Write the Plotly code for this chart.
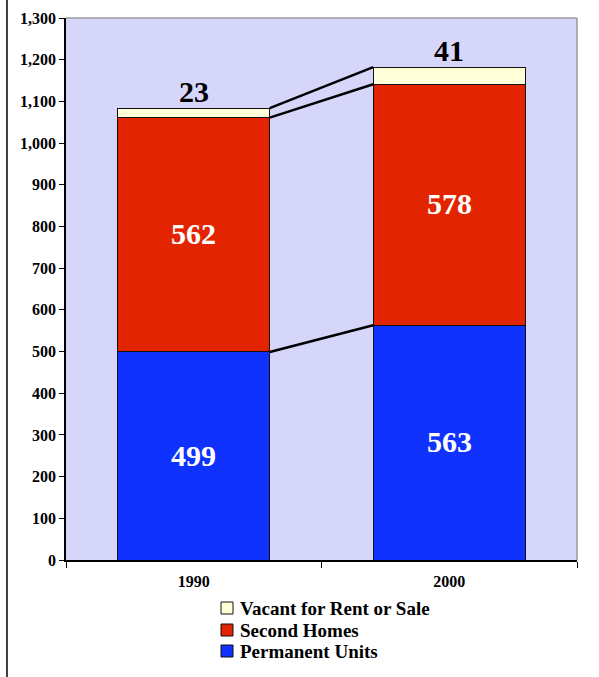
import plotly.graph_objects as go

years = ["1990", "2000"]
permanent = [499, 563]
second_homes = [562, 578]
vacant = [23, 41]
series_names = ["Permanent Units", "Second Homes", "Vacant for Rent or Sale"]
colors = ["#0F32FF", "#E32400", "#FFFFD8"]
y_ticks = list(range(0, 1301, 100))

xpos = list(range(len(years)))
bw = 0.595
font_family = "Liberation Serif, Times New Roman, serif"

fig = go.Figure()
stack = [permanent, second_homes, vacant]
for name, vals, col in zip(series_names, stack, colors):
    fig.add_trace(go.Bar(
        x=xpos, y=vals, name=name, width=bw, showlegend=False,
        marker=dict(color=col, line=dict(color="#111111", width=1)),
    ))

cum1 = permanent
cum2 = [a + b for a, b in zip(permanent, second_homes)]
cum3 = [a + b for a, b in zip(cum2, vacant)]
for lvl in [cum1, cum2, cum3]:
    fig.add_trace(go.Scatter(
        x=[xpos[0] + bw / 2, xpos[1] - bw / 2], y=lvl, mode="lines",
        line=dict(color="black", width=2.5), showlegend=False, hoverinfo="skip",
    ))

for i in xpos:
    fig.add_annotation(x=i, y=permanent[i] / 2 + 2, text=f"<b>{permanent[i]}</b>",
                       showarrow=False, font=dict(family=font_family, size=30, color="white"))
    fig.add_annotation(x=i, y=cum1[i] + second_homes[i] / 2 + 2, text=f"<b>{second_homes[i]}</b>",
                       showarrow=False, font=dict(family=font_family, size=30, color="white"))
    fig.add_annotation(x=i, y=cum3[i], yshift=-2, yanchor="bottom", text=f"<b>{vacant[i]}</b>",
                       showarrow=False, font=dict(family=font_family, size=30, color="black"))

# manual legend (reversed order, compact rows)
plot_h = 677 - 18 - 117
plot_w = 599 - 66 - 22
leg_x0 = (221 - 66) / plot_w
leg_sq = 12 / plot_w
leg_txt_x = (238 - 66) / plot_w
row_centers_px = [608, 630, 651]
for k, idx in enumerate([2, 1, 0]):
    yc = (560 - row_centers_px[k]) / plot_h
    half = 6 / plot_h
    fig.add_shape(type="rect", xref="paper", yref="paper",
                  x0=leg_x0, x1=leg_x0 + leg_sq, y0=yc - half, y1=yc + half,
                  fillcolor=colors[idx], line=dict(color="#111111", width=1))
    fig.add_annotation(xref="paper", yref="paper", x=leg_txt_x, y=yc,
                       xanchor="left", yanchor="middle", showarrow=False,
                       text=f"<b>{series_names[idx]}</b>",
                       font=dict(family=font_family, size=19, color="black"))

fig.add_shape(type="line", xref="paper", yref="paper",
              x0=-0.1155, x1=-0.1155, y0=-0.22, y1=1.04,
              line=dict(color="black", width=1.5))

fig.update_layout(
    barmode="stack",
    width=599, height=677,
    margin=dict(l=66, r=22, t=18, b=117, autoexpand=False),
    paper_bgcolor="white",
    plot_bgcolor="#D6D6FA",
    font=dict(family=font_family, color="black"),
    showlegend=False,
    xaxis=dict(range=[-0.5, 1.5], tickvals=xpos, ticktext=[f"<b>{y}</b>" for y in years],
               ticks="", showline=True, linecolor="black", linewidth=1.5,
               ticklabelstandoff=6,
               tickfont=dict(family=font_family, size=16), showgrid=False, zeroline=False,
               minor=dict(tickvals=[-0.5, 0.5, 1.5], ticks="outside", ticklen=6,
                          tickcolor="black", showgrid=False)),
    yaxis=dict(range=[0, 1300], tickvals=y_ticks,
               ticktext=[f"<b>{v:,}</b>" for v in y_ticks],
               ticks="outside", ticklen=5, tickcolor="black",
               showline=True, linecolor="black", linewidth=1.5,
               tickfont=dict(family=font_family, size=16), showgrid=False, zeroline=False),
)
fig.add_shape(type="line", xref="paper", yref="paper", x0=0, x1=1, y0=1, y1=1,
              line=dict(color="#999999", width=1.5))
fig.add_shape(type="line", xref="paper", yref="paper", x0=1, x1=1, y0=0, y1=1,
              line=dict(color="#999999", width=1.5))

fig.write_html("out.html")
